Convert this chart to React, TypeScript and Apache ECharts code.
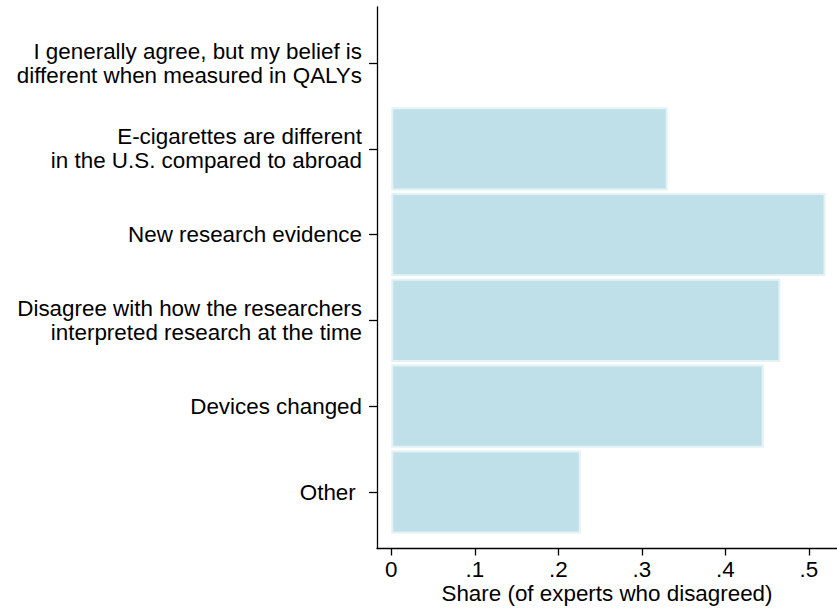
import React, { useEffect, useRef } from "react";
import * as echarts from "echarts";

// Categories, top to bottom
const categories: string[] = [
  "I generally agree, but my belief is\ndifferent when measured in QALYs",
  "E-cigarettes are different\nin the U.S. compared to abroad",
  "New research evidence",
  "Disagree with how the researchers\ninterpreted research at the time",
  "Devices changed",
  "Other ",
];

// Share of experts who disagreed, same order as categories
const shares: number[] = [0, 0.331, 0.52, 0.466, 0.446, 0.227];

// X axis tick values
const xTicks: number[] = [0, 0.1, 0.2, 0.3, 0.4, 0.5];

const X_MIN = -0.0171;
const X_MAX = 0.5338;

const FONT = "'Liberation Sans', Arial, Helvetica, sans-serif";
const FS = 22.4;

export default function App() {
  const ref = useRef<HTMLDivElement>(null);

  useEffect(() => {
    document.body.style.margin = "0";
    if (!ref.current) return;
    const chart = echarts.init(ref.current, null, { renderer: "svg" });

    const fmt = (v: number) => {
      if (Math.abs(v) < 1e-9) return "0";
      return String(Math.round(v * 10) / 10).replace(/^0/, "");
    };

    const barData = shares.map((v) =>
      v === 0 ? { value: v, itemStyle: { borderWidth: 0, opacity: 0 } } : v
    );

    chart.setOption({
      animation: false,
      backgroundColor: "#ffffff",
      textStyle: { fontFamily: FONT, color: "#000" },
      grid: [
        // frame grid: axis lines, x ticks, x labels, x name
        { left: 377, right: 0, top: 7, bottom: 63.5, containLabel: false },
        // bar grid: categories
        { left: 377, right: 0, top: 20.1, bottom: 77.1, containLabel: false },
      ],
      xAxis: [
        {
          gridIndex: 0,
          type: "value",
          min: X_MIN,
          max: X_MAX,
          axisLine: {
            show: true,
            onZero: false,
            lineStyle: { color: "#000", width: 1.3 },
          },
          axisTick: {
            show: true,
            length: 7,
            inside: false,
            customValues: xTicks,
            lineStyle: { color: "#000", width: 1.3 },
          },
          axisLabel: {
            show: true,
            customValues: xTicks,
            formatter: fmt,
            fontSize: FS,
            color: "#000",
            fontFamily: FONT,
            margin: 10,
          },
          splitLine: { show: false },
          name: "Share (of experts who disagreed)",
          nameLocation: "middle",
          nameGap: 34,
          nameMoveOverlap: false,
          nameTextStyle: { fontSize: FS, color: "#000", fontFamily: FONT },
        },
        {
          gridIndex: 1,
          type: "value",
          min: X_MIN,
          max: X_MAX,
          show: false,
          splitLine: { show: false },
        },
      ],
      yAxis: [
        {
          gridIndex: 0,
          type: "value",
          min: 0,
          max: 1,
          axisLine: {
            show: true,
            onZero: false,
            lineStyle: { color: "#000", width: 1.3 },
          },
          axisTick: { show: false },
          axisLabel: { show: false },
          splitLine: { show: false },
        },
        {
          gridIndex: 1,
          type: "category",
          data: categories,
          inverse: true,
          axisLine: { show: false, onZero: false },
          axisTick: {
            show: true,
            alignWithLabel: true,
            length: 8,
            lineStyle: { color: "#000", width: 1.3 },
          },
          axisLabel: {
            interval: 0,
            fontSize: FS,
            lineHeight: 24,
            color: "#000",
            fontFamily: FONT,
            margin: 15,
            align: "right",
            padding: [0, 0, 3, 0],
          },
          splitLine: { show: false },
        },
      ],
      series: [
        {
          type: "bar",
          xAxisIndex: 1,
          yAxisIndex: 1,
          data: barData,
          barCategoryGap: "3%",
          itemStyle: {
            color: "#bfe0e9",
            borderColor: "#e4f2f6",
            borderWidth: 2,
          },
          silent: true,
        },
      ],
    });

    return () => chart.dispose();
  }, []);

  return (
    <div
      ref={ref}
      style={{ width: 837, height: 612, position: "absolute", left: 0, top: 0 }}
    />
  );
}
